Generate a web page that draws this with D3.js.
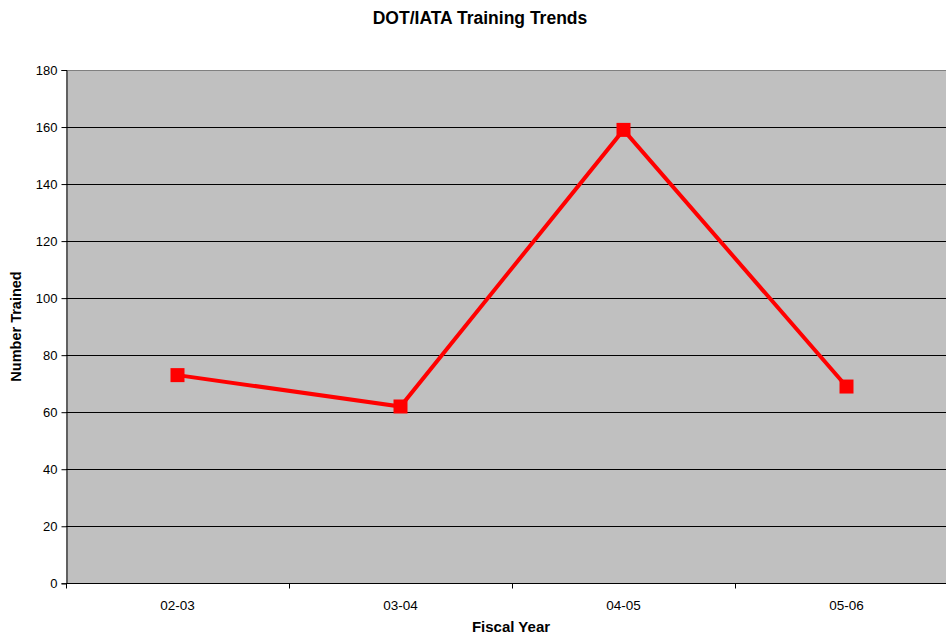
<!DOCTYPE html>
<html><head><meta charset="utf-8">
<script src="https://cdn.jsdelivr.net/npm/d3@7"></script>
<style>
body{margin:0;background:#fff;overflow:hidden}
text{font-family:"Liberation Sans",Arial,sans-serif}
</style></head>
<body>
<svg id="c" width="946" height="639"></svg>
<script>
const categories = ["02-03","03-04","04-05","05-06"];
const values = [73, 62, 159, 69];
const yTicks = [0,20,40,60,80,100,120,140,160,180];
const title = "DOT/IATA Training Trends";
const xTitle = "Fiscal Year";
const yTitle = "Number Trained";

const svg = d3.select("#c");
const L = 66, R = 958, T = 70, B = 583.3;
const x = d3.scaleBand().domain(categories).range([L, R]);
const y = d3.scaleLinear().domain([0,180]).range([B, T]);

svg.append("rect").attr("x",L).attr("y",T).attr("width",R-L).attr("height",B-T).attr("fill","#c0c0c0");

// gridlines
svg.append("g").selectAll("line").data(yTicks.filter(d=>d>0)).join("line")
  .attr("x1",L).attr("x2",R).attr("y1",d=>Math.round(y(d))+0.5).attr("y2",d=>Math.round(y(d))+0.5)
  .attr("stroke",d=>d===180?"#808080":"#000").attr("stroke-width",1);

// y axis
const ya = svg.append("g").attr("transform",`translate(${L+0.5},0)`)
  .call(d3.axisLeft(y).tickValues(yTicks).tickSize(5).tickPadding(4));
ya.select(".domain").attr("stroke","#000");
ya.selectAll(".tick line").attr("stroke","#000");
ya.selectAll("text").attr("font-size",13).attr("fill","#000").style("font-family","'Liberation Sans',Arial,sans-serif");

// x axis
const xa = svg.append("g").attr("transform",`translate(0,${Math.round(B)+0.5})`);
xa.append("line").attr("x1",L).attr("x2",R).attr("stroke","#000");
const bounds = categories.map(c=>x(c)).concat([R]);
xa.selectAll("line.tk").data(bounds).join("line").attr("class","tk")
  .attr("x1",d=>Math.round(d)+0.5).attr("x2",d=>Math.round(d)+0.5).attr("y1",0).attr("y2",5).attr("stroke","#000");
xa.selectAll("text").data(categories).join("text")
  .attr("x",d=>x(d)+x.bandwidth()/2).attr("y",26).attr("text-anchor","middle")
  .attr("font-size",13.5).attr("fill","#000").text(d=>d);

// line
const cx = d=>x(d)+x.bandwidth()/2;
const line = d3.line().x((d,i)=>cx(categories[i])).y(d=>y(d));
svg.append("path").datum(values).attr("d",line).attr("fill","none")
  .attr("stroke","#ff0000").attr("stroke-width",4).attr("stroke-linejoin","miter");
svg.append("g").selectAll("rect").data(values).join("rect")
  .attr("x",(d,i)=>cx(categories[i])-7).attr("y",d=>y(d)-7)
  .attr("width",14).attr("height",14).attr("fill","#ff0000");

// titles
svg.append("text").attr("x",480).attr("y",24).attr("text-anchor","middle")
  .attr("font-size",17.5).attr("font-weight","bold").text(title);
svg.append("text").attr("x",511).attr("y",632).attr("text-anchor","middle")
  .attr("font-size",15).attr("font-weight","bold").text(xTitle);
svg.append("text").attr("transform","translate(21,326.5) rotate(-90)").attr("text-anchor","middle")
  .attr("font-size",14.5).attr("font-weight","bold").text(yTitle);
</script>
</body></html>
